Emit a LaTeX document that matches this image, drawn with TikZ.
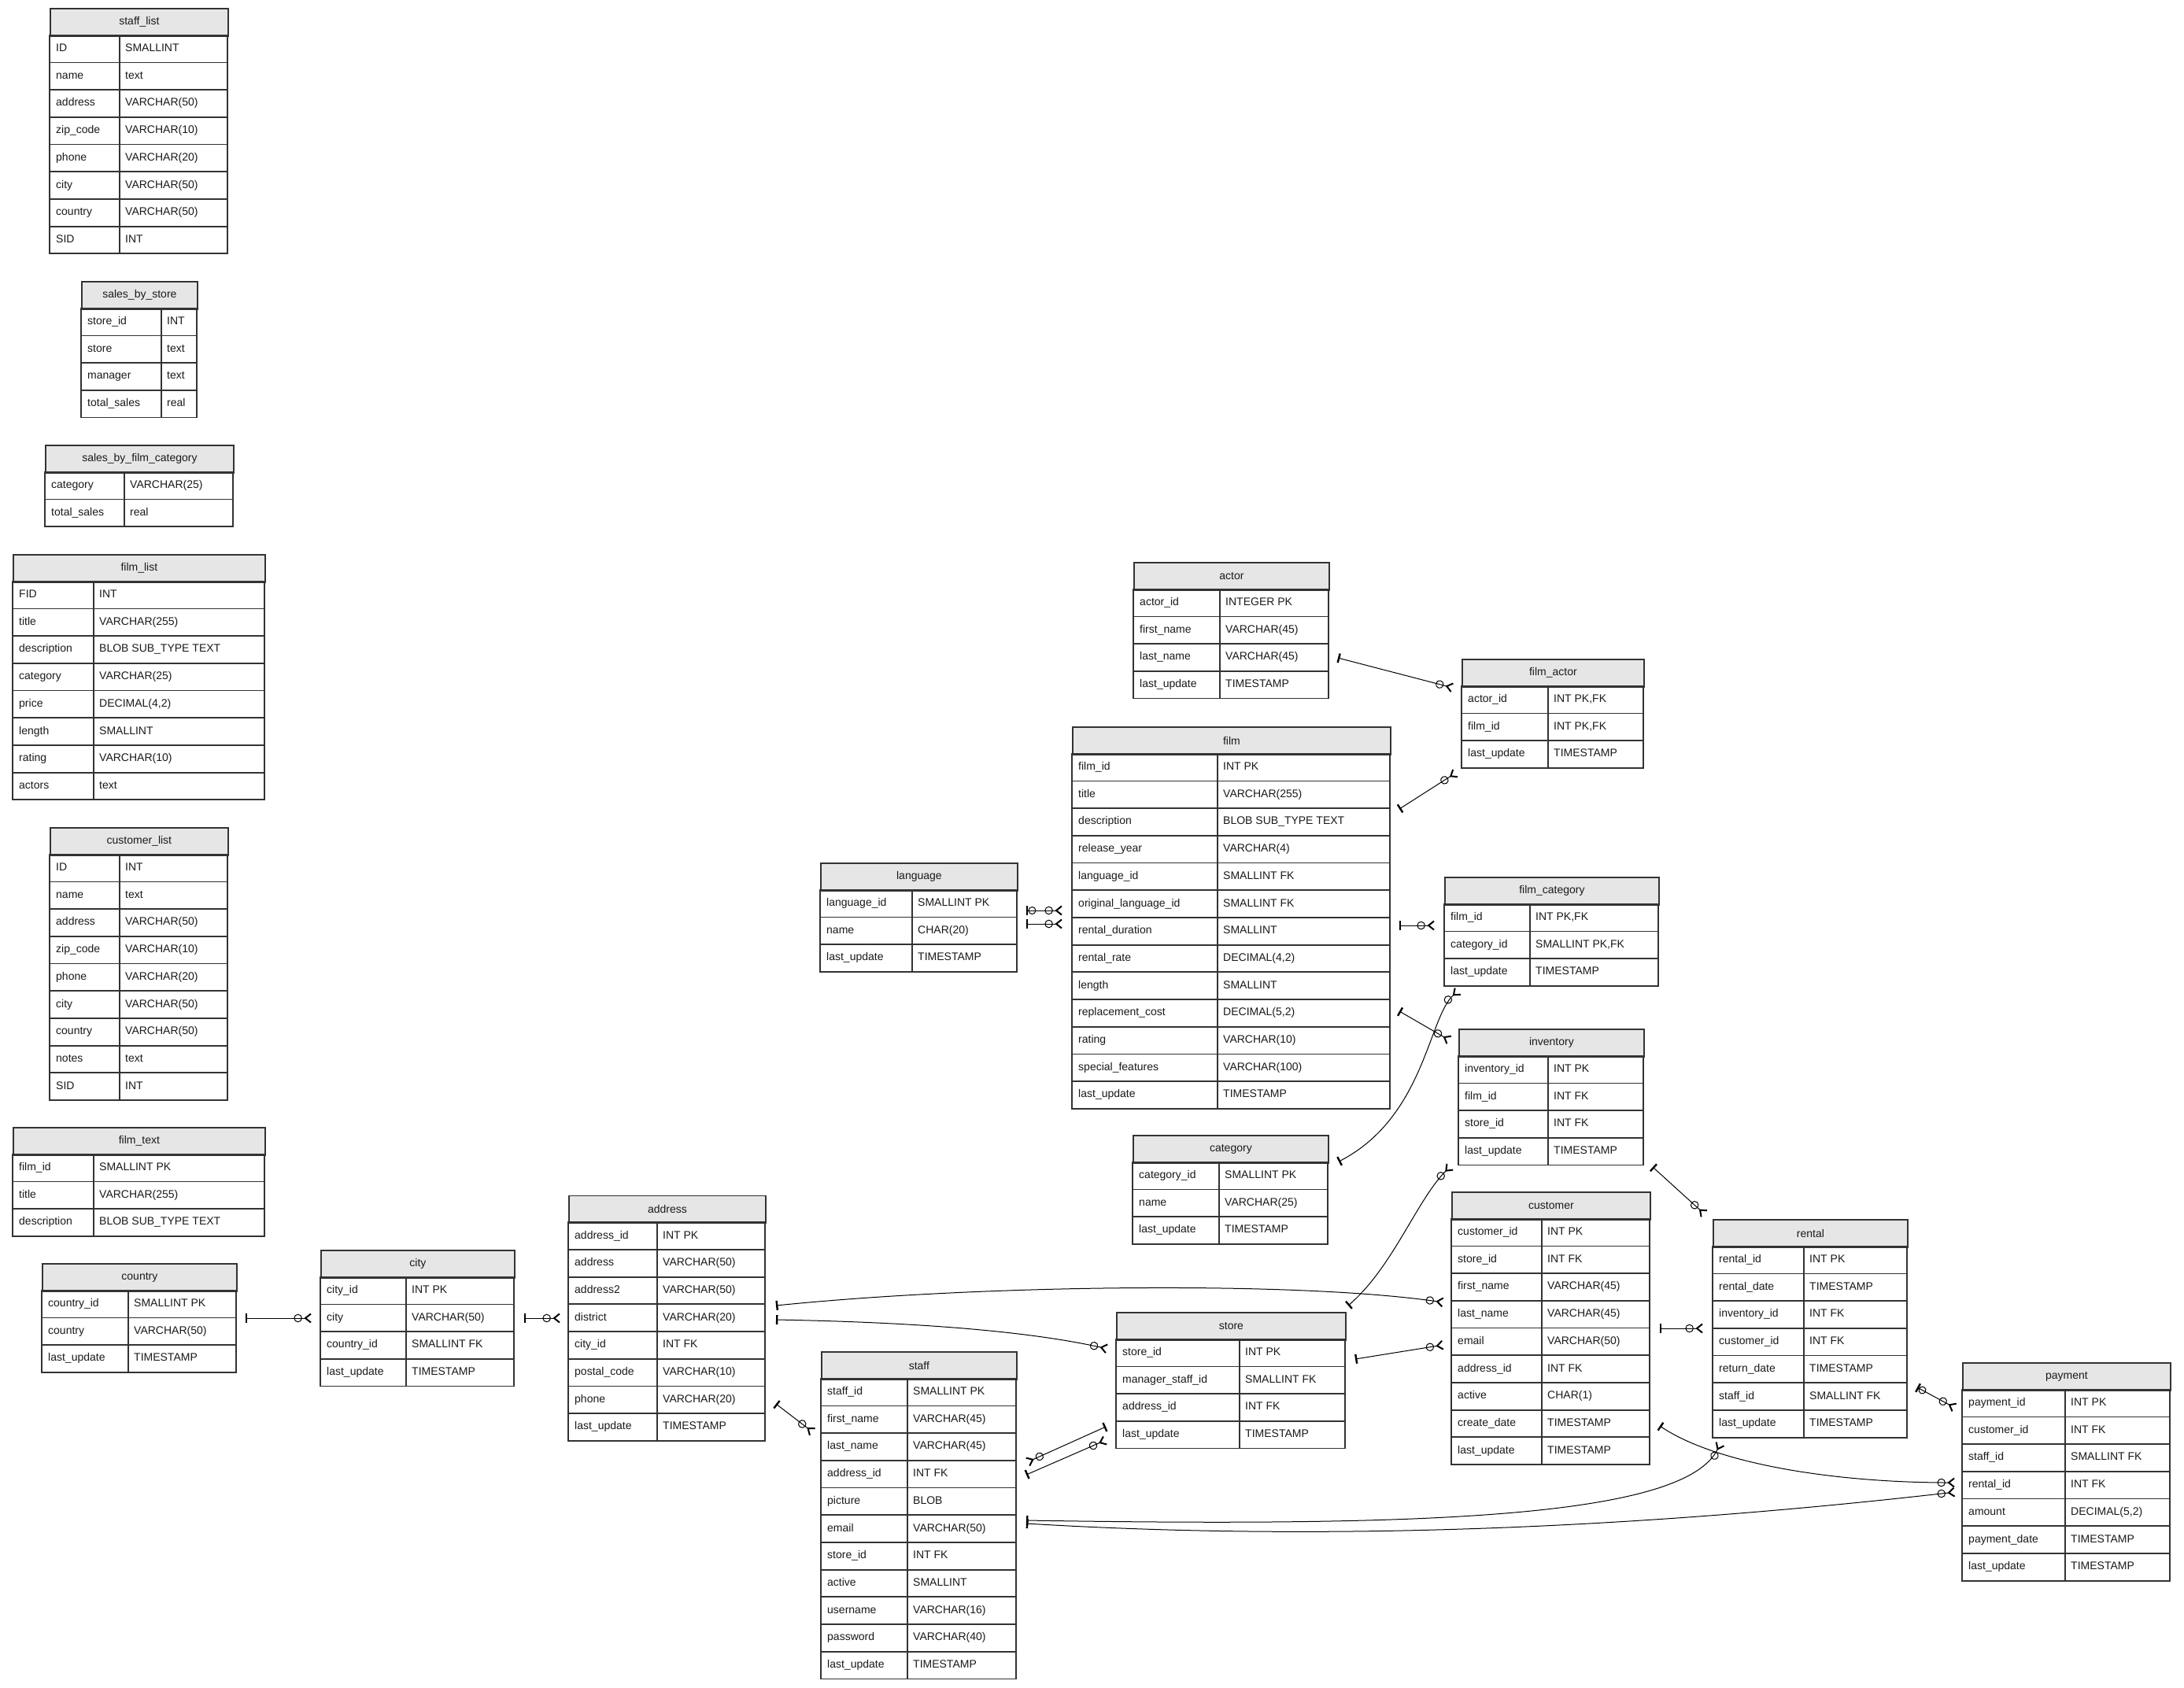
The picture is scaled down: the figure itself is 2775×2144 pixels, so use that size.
\documentclass[tikz,border=0pt]{standalone}
\usepackage{fontspec}
\setmainfont{Liberation Sans}
\usetikzlibrary{arrows.meta}
\definecolor{hdrfill}{HTML}{E6E6E6}
\definecolor{bord}{HTML}{333333}
\definecolor{txt}{HTML}{1A1A1A}
\tikzset{
  tbox/.style={draw=bord, line width=1.8pt},
  hdrbox/.style={draw=bord, fill=hdrfill, line width=1.8pt, inner sep=0pt, anchor=north west,
     minimum height=34.7pt, text=txt, font=\fontsize{14}{16}\selectfont},
  celltxt/.style={anchor=west, inner sep=0pt, text=txt, font=\fontsize{14}{16}\selectfont,
     text height=10pt, text depth=3pt},
  erone/.tip={Bar[width=12pt,line width=2.4pt]},
  erzone/.tip={Circle[open,length=10pt,width=10pt,line width=1pt] Bar[width=12pt,line width=2.4pt]},
  ermany/.tip={Circle[open,length=10.5pt,width=10.5pt,line width=1pt,sep=2.5pt] Straight Barb[reversed,length=7pt,width=11pt,line width=2pt]},
  rel/.style={line width=1pt, draw=black, erone-ermany},
  relz/.style={line width=1pt, draw=black, erzone-ermany},
}
\newcommand\ertab[7]{%
  \pgfmathsetmacro\tw{#5-#2}%
  \node[hdrbox, minimum width=\tw pt] (#1) at (#2,#3) {#6};
  \foreach [count=\i] \a/\b in {#7} {
    \pgfmathsetmacro\yt{#3+34.7*\i}
    \pgfmathsetmacro\yb{\yt+34.7}
    \pgfmathsetmacro\ym{\yt+17.35}
    \draw[tbox] (#2,\yt) rectangle (#4,\yb);
    \draw[tbox] (#4,\yt) rectangle (#5,\yb);
    \node[celltxt] (#1-a\i) at (#2+8,\ym) {\a};
    \node[celltxt] (#1-b\i) at (#4+7,\ym) {\b};
  }%
}
\begin{document}
\begin{tikzpicture}[x=1pt,y=-1pt]
\useasboundingbox[fill=white] (0,0) rectangle (2775,2144);

\ertab{stafflist}{63}{10}{152}{289}{staff\_list}{ID/SMALLINT, name/text, address/VARCHAR(50), zip\_code/VARCHAR(10), phone/VARCHAR(20), city/VARCHAR(50), country/VARCHAR(50), SID/INT}
\ertab{salesstore}{103}{357}{205}{250}{sales\_by\_store}{store\_id/INT, store/text, manager/text, total\_sales/real}
\ertab{salescat}{57}{565}{158}{296}{sales\_by\_film\_category}{category/VARCHAR(25), total\_sales/real}
\ertab{filmlist}{16}{704}{119}{336}{film\_list}{FID/INT, title/VARCHAR(255), description/BLOB SUB\_TYPE TEXT, category/VARCHAR(25), {price/DECIMAL(4,2)}, length/SMALLINT, rating/VARCHAR(10), actors/text}
\ertab{customerlist}{63}{1051}{152}{289}{customer\_list}{ID/INT, name/text, address/VARCHAR(50), zip\_code/VARCHAR(10), phone/VARCHAR(20), city/VARCHAR(50), country/VARCHAR(50), notes/text, SID/INT}
\ertab{filmtext}{16}{1432}{119}{336}{film\_text}{film\_id/SMALLINT PK, title/VARCHAR(255), description/BLOB SUB\_TYPE TEXT}
\ertab{country}{53}{1605}{163}{300}{country}{country\_id/SMALLINT PK, country/VARCHAR(50), last\_update/TIMESTAMP}
\ertab{city}{407}{1588}{516}{653}{city}{city\_id/INT PK, city/VARCHAR(50), country\_id/SMALLINT FK, last\_update/TIMESTAMP}
\ertab{address}{722}{1518.5}{835}{972}{address}{address\_id/INT PK, address/VARCHAR(50), address2/VARCHAR(50), district/VARCHAR(20), city\_id/INT FK, postal\_code/VARCHAR(10), phone/VARCHAR(20), last\_update/TIMESTAMP}
\ertab{staff}{1043}{1717}{1153}{1291}{staff}{staff\_id/SMALLINT PK, first\_name/VARCHAR(45), last\_name/VARCHAR(45), address\_id/INT FK, picture/BLOB, email/VARCHAR(50), store\_id/INT FK, active/SMALLINT, username/VARCHAR(16), password/VARCHAR(40), last\_update/TIMESTAMP}
\ertab{language}{1042}{1096}{1159}{1292}{language}{language\_id/SMALLINT PK, name/CHAR(20), last\_update/TIMESTAMP}
\ertab{actor}{1440}{714}{1550}{1688}{actor}{actor\_id/INTEGER PK, first\_name/VARCHAR(45), last\_name/VARCHAR(45), last\_update/TIMESTAMP}
\ertab{filmactor}{1857}{837}{1967}{2088}{film\_actor}{{actor\_id/INT PK,FK}, {film\_id/INT PK,FK}, last\_update/TIMESTAMP}
\ertab{film}{1362}{923}{1547}{1766}{film}{film\_id/INT PK, title/VARCHAR(255), description/BLOB SUB\_TYPE TEXT, release\_year/VARCHAR(4), language\_id/SMALLINT FK, original\_language\_id/SMALLINT FK, rental\_duration/SMALLINT, {rental\_rate/DECIMAL(4,2)}, length/SMALLINT, {replacement\_cost/DECIMAL(5,2)}, rating/VARCHAR(10), special\_features/VARCHAR(100), last\_update/TIMESTAMP}
\ertab{filmcategory}{1835}{1114}{1944}{2107}{film\_category}{{film\_id/INT PK,FK}, {category\_id/SMALLINT PK,FK}, last\_update/TIMESTAMP}
\ertab{inventory}{1853}{1307}{1967}{2088}{inventory}{inventory\_id/INT PK, film\_id/INT FK, store\_id/INT FK, last\_update/TIMESTAMP}
\ertab{category}{1439}{1442}{1549}{1687}{category}{category\_id/SMALLINT PK, name/VARCHAR(25), last\_update/TIMESTAMP}
\ertab{customer}{1844}{1514}{1959}{2096}{customer}{customer\_id/INT PK, store\_id/INT FK, first\_name/VARCHAR(45), last\_name/VARCHAR(45), email/VARCHAR(50), address\_id/INT FK, active/CHAR(1), create\_date/TIMESTAMP, last\_update/TIMESTAMP}
\ertab{store}{1418}{1667}{1575}{1709}{store}{store\_id/INT PK, manager\_staff\_id/SMALLINT FK, address\_id/INT FK, last\_update/TIMESTAMP}
\ertab{rental}{2176}{1549}{2292}{2423}{rental}{rental\_id/INT PK, rental\_date/TIMESTAMP, inventory\_id/INT FK, customer\_id/INT FK, return\_date/TIMESTAMP, staff\_id/SMALLINT FK, last\_update/TIMESTAMP}
\ertab{payment}{2493}{1731}{2624}{2757}{payment}{payment\_id/INT PK, customer\_id/INT FK, staff\_id/SMALLINT FK, rental\_id/INT FK, {amount/DECIMAL(5,2)}, payment\_date/TIMESTAMP, last\_update/TIMESTAMP}

% connector end points
\coordinate (c1a) at (1700,836);  \coordinate (c1b) at (1846,874);
\coordinate (c2a) at (1778,1028); \coordinate (c2b) at (1850,982);
\coordinate (c3a) at (1778,1176); \coordinate (c3b) at (1823,1176);
\coordinate (c4a) at (1701,1476); \coordinate (c4b) at (1853,1259);
\coordinate (c5a) at (1778,1285); \coordinate (c5b) at (1842,1322);
\coordinate (c6a) at (1713,1659); \coordinate (c6b) at (1843,1482);
\coordinate (c7a) at (2100,1483); \coordinate (c7b) at (2166,1543);
\coordinate (c8a) at (2109,1688); \coordinate (c8b) at (2164,1688);
\coordinate (c9a) at (1722,1727); \coordinate (c9b) at (1834,1709);
\coordinate (c10a) at (986,1659); \coordinate (c10b) at (1834,1655);
\coordinate (c11a) at (986,1677); \coordinate (c11b) at (1407,1714);
\coordinate (c12a) at (986,1784); \coordinate (c12b) at (1033,1820);
\coordinate (c13a) at (1405,1813); \coordinate (c13b) at (1305,1858);
\coordinate (c14a) at (1304,1874); \coordinate (c14b) at (1405,1830);
\coordinate (c15a) at (1304,1932); \coordinate (c15b) at (2186,1834);
\coordinate (c16a) at (2109,1812); \coordinate (c16b) at (2484,1884);
\coordinate (c17a) at (1304,1936); \coordinate (c17b) at (2484,1896);
\coordinate (c18a) at (2436,1763); \coordinate (c18b) at (2484,1789);
\coordinate (c19a) at (312,1675);  \coordinate (c19b) at (396,1675);
\coordinate (c20a) at (666,1675);  \coordinate (c20b) at (712,1675);
\coordinate (c21a) at (1304,1157); \coordinate (c21b) at (1350,1157);
\coordinate (c22a) at (1304,1174); \coordinate (c22b) at (1350,1174);

\draw[rel] (c1a) -- (c1b);
\draw[rel] (c2a) -- (c2b);
\draw[rel] (c3a) -- (c3b);
\draw[rel] (c4a) .. controls (1810,1420) and (1815,1292) .. (c4b);
\draw[rel] (c5a) -- (c5b);
\draw[rel] (c6a) .. controls (1770,1610) and (1800,1525) .. (c6b);
\draw[rel] (c7a) -- (c7b);
\draw[rel] (c8a) -- (c8b);
\draw[rel] (c9a) -- (c9b);
\draw[rel] (c10a) .. controls (1250,1632) and (1650,1628) .. (c10b);
\draw[rel] (c11a) .. controls (1150,1680) and (1300,1690) .. (c11b);
\draw[rel] (c12a) -- (c12b);
\draw[rel] (c13a) -- (c13b);
\draw[rel] (c14a) -- (c14b);
\draw[rel] (c15a) .. controls (1800,1940) and (2140,1930) .. (c15b);
\draw[rel] (c16a) .. controls (2180,1860) and (2330,1884) .. (c16b);
\draw[rel] (c17a) .. controls (1700,1960) and (2100,1940) .. (c17b);
\draw[relz] (c18a) -- (c18b);
\draw[rel] (c19a) -- (c19b);
\draw[rel] (c20a) -- (c20b);
\draw[relz] (c21a) -- (c21b);
\draw[rel] (c22a) -- (c22b);
\end{tikzpicture}
\end{document}
